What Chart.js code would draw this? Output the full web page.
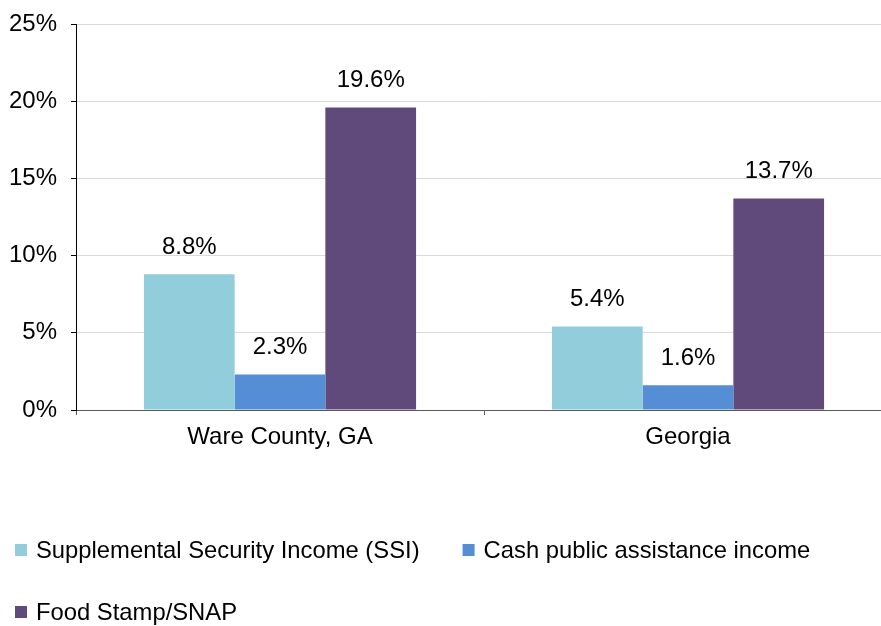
<!DOCTYPE html>
<html>
<head>
<meta charset="utf-8">
<script src="https://cdn.jsdelivr.net/npm/chart.js@4.4.1/dist/chart.umd.min.js"></script>
<style>
  html, body { margin: 0; padding: 0; background: #ffffff; overflow: hidden; }
  #wrap { position: relative; width: 892px; height: 626px; }
</style>
</head>
<body>
<div id="wrap"><canvas id="c" width="892" height="626"></canvas></div>
<script>
const categories = ["Ware County, GA", "Georgia"];
const seriesNames = ["Supplemental Security Income (SSI)", "Cash public assistance income", "Food Stamp/SNAP"];
const ssiValues = [8.8, 5.4];
const cashValues = [2.3, 1.6];
const snapValues = [19.6, 13.7];
const seriesColors = ["#92CDDC", "#558ED5", "#604A7B"];

const FONT = "'Liberation Sans', Arial, Helvetica, sans-serif";
Chart.defaults.font.family = FONT;
Chart.defaults.font.size = 24;
Chart.defaults.color = "#000000";

const valueLabels = {
  id: "valueLabels",
  afterDatasetsDraw(chart) {
    const ctx = chart.ctx;
    ctx.save();
    ctx.font = "24px " + FONT;
    ctx.fillStyle = "#000000";
    ctx.textAlign = "center";
    ctx.textBaseline = "middle";
    chart.data.datasets.forEach((ds, di) => {
      chart.getDatasetMeta(di).data.forEach((bar, i) => {
        ctx.fillText(ds.data[i].toFixed(1) + "%", bar.x, bar.y - 27);
      });
    });
    ctx.restore();
  }
};

const bottomLegend = {
  id: "bottomLegend",
  afterDraw(chart) {
    const ctx = chart.ctx;
    ctx.save();
    ctx.font = "23.8px " + FONT;
    ctx.textBaseline = "middle";
    ctx.textAlign = "left";
    const startX = 15, box = 12, gap = 9, itemGap = 43, rowH = 62, maxW = 881;
    let x = startX, y = 550;
    chart.data.datasets.forEach((ds, i) => {
      const w = box + gap + ctx.measureText(ds.label).width;
      if (x > startX && x + w > maxW) { x = startX; y += rowH; }
      ctx.fillStyle = ds.backgroundColor;
      ctx.fillRect(x, y - 6, box, box);
      ctx.fillStyle = "#000000";
      ctx.fillText(ds.label, x + box + gap, y + 1);
      x += w + itemGap;
    });
    ctx.restore();
  }
};

new Chart(document.getElementById("c"), {
  type: "bar",
  data: {
    labels: categories,
    datasets: [
      { label: seriesNames[0], data: ssiValues, backgroundColor: seriesColors[0] },
      { label: seriesNames[1], data: cashValues, backgroundColor: seriesColors[1] },
      { label: seriesNames[2], data: snapValues, backgroundColor: seriesColors[2] }
    ]
  },
  options: {
    responsive: false,
    animation: false,
    devicePixelRatio: 1,
    layout: { padding: { top: 24, left: 0, right: 0, bottom: 0 } },
    datasets: { bar: { categoryPercentage: 0.667, barPercentage: 1.0, borderWidth: 0 } },
    plugins: { legend: { display: false }, tooltip: { enabled: false } },
    scales: {
      x: {
        grid: { drawOnChartArea: false, offset: true, tickColor: "#595959", tickLength: 5 },
        border: { color: "#595959", width: 1 },
        ticks: { padding: 8, font: { size: 24 }, color: "#000000" },
        afterFit(s) { s.height = 216; }
      },
      y: {
        min: 0, max: 25,
        grid: { color: "#d9d9d9", tickColor: "#000000", tickLength: 5 },
        border: { color: "#000000", width: 1 },
        ticks: { stepSize: 5, padding: 14, font: { size: 24 }, color: "#000000",
                 callback: v => v + "%" },
        afterFit(s) { s.width = 76; s.paddingTop = 0; s.paddingBottom = 0; }
      }
    }
  },
  plugins: [valueLabels, bottomLegend]
});
</script>
</body>
</html>
